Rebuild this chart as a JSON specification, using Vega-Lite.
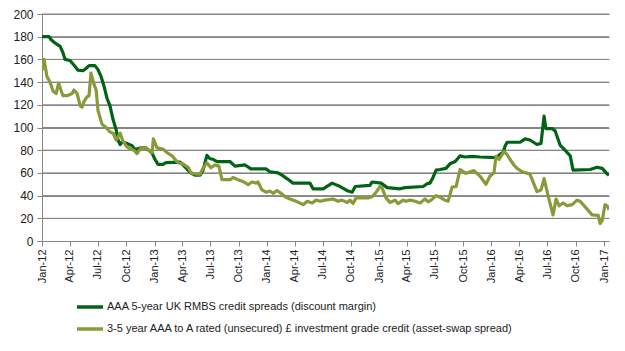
{
  "$schema": "https://vega.github.io/schema/vega-lite/v6.json",
  "width": 567,
  "height": 227,
  "autosize": {"type": "none"},
  "padding": {"left": 42, "top": 14, "right": 16, "bottom": 110},
  "background": "white",
  "config": {
    "view": {"stroke": null},
    "font": "Liberation Sans",
    "axis": {"labelFont": "Liberation Sans", "labelColor": "#222222", "domainColor": "#868686", "tickColor": "#868686", "domainWidth": 1, "tickWidth": 1, "labelOverlap": false},
    "axisX": {"labelAngle": -90, "labelFontSize": 11, "tickSize": 5, "labelPadding": 3, "grid": false, "title": null},
    "axisY": {"labelFontSize": 12, "tickSize": 5, "labelPadding": 4, "grid": true, "gridColor": "#868686", "gridOpacity": 1, "gridWidth": 1, "title": null}
  },
  "datasets": {
    "grid": [{"level": 20}, {"level": 40}, {"level": 60}, {"level": 80}, {"level": 100}, {"level": 120}, {"level": 140}, {"level": 160}, {"level": 180}, {"level": 200}],
    "rmbs": [
      {"date": "2012-01-01", "value": 180}, {"date": "2012-01-24", "value": 180}, {"date": "2012-01-30", "value": 177.5},
      {"date": "2012-02-12", "value": 174.5}, {"date": "2012-02-29", "value": 171.5}, {"date": "2012-03-09", "value": 166},
      {"date": "2012-03-16", "value": 160}, {"date": "2012-04-01", "value": 159}, {"date": "2012-04-17", "value": 154},
      {"date": "2012-04-27", "value": 150.5}, {"date": "2012-05-13", "value": 150}, {"date": "2012-05-23", "value": 152},
      {"date": "2012-06-02", "value": 154.5}, {"date": "2012-06-21", "value": 154.5}, {"date": "2012-07-01", "value": 151},
      {"date": "2012-07-11", "value": 145}, {"date": "2012-07-21", "value": 136}, {"date": "2012-07-30", "value": 126},
      {"date": "2012-08-09", "value": 119}, {"date": "2012-08-19", "value": 107}, {"date": "2012-08-29", "value": 98},
      {"date": "2012-09-04", "value": 89}, {"date": "2012-09-11", "value": 85}, {"date": "2012-09-17", "value": 87},
      {"date": "2012-10-03", "value": 86}, {"date": "2012-10-20", "value": 84}, {"date": "2012-10-29", "value": 80.5},
      {"date": "2012-11-15", "value": 82}, {"date": "2012-12-04", "value": 82}, {"date": "2012-12-24", "value": 77.5},
      {"date": "2013-01-02", "value": 72}, {"date": "2013-01-12", "value": 67.5}, {"date": "2013-01-28", "value": 67.5},
      {"date": "2013-02-07", "value": 69}, {"date": "2013-03-25", "value": 69.5}, {"date": "2013-04-03", "value": 67},
      {"date": "2013-04-16", "value": 63.5}, {"date": "2013-04-26", "value": 60.5}, {"date": "2013-05-12", "value": 58},
      {"date": "2013-05-29", "value": 58}, {"date": "2013-06-07", "value": 62}, {"date": "2013-06-20", "value": 75.5},
      {"date": "2013-06-30", "value": 72.5}, {"date": "2013-07-10", "value": 72}, {"date": "2013-07-23", "value": 70},
      {"date": "2013-09-03", "value": 70}, {"date": "2013-09-19", "value": 66}, {"date": "2013-10-22", "value": 67},
      {"date": "2013-11-10", "value": 63.5}, {"date": "2013-12-29", "value": 63.5}, {"date": "2014-01-11", "value": 61},
      {"date": "2014-02-06", "value": 60}, {"date": "2014-02-19", "value": 58}, {"date": "2014-03-07", "value": 55},
      {"date": "2014-03-27", "value": 51}, {"date": "2014-05-21", "value": 51}, {"date": "2014-05-31", "value": 46},
      {"date": "2014-07-03", "value": 46}, {"date": "2014-08-01", "value": 51}, {"date": "2014-08-27", "value": 48},
      {"date": "2014-09-22", "value": 44}, {"date": "2014-10-05", "value": 43}, {"date": "2014-10-15", "value": 48},
      {"date": "2014-12-02", "value": 49}, {"date": "2014-12-09", "value": 52}, {"date": "2015-01-07", "value": 51},
      {"date": "2015-01-27", "value": 47}, {"date": "2015-03-10", "value": 46}, {"date": "2015-03-26", "value": 47},
      {"date": "2015-05-24", "value": 48}, {"date": "2015-06-06", "value": 50.5}, {"date": "2015-06-15", "value": 51},
      {"date": "2015-06-25", "value": 56}, {"date": "2015-07-05", "value": 62.5}, {"date": "2015-07-18", "value": 63},
      {"date": "2015-08-06", "value": 64}, {"date": "2015-08-19", "value": 68}, {"date": "2015-09-05", "value": 70},
      {"date": "2015-09-21", "value": 75}, {"date": "2015-10-07", "value": 74}, {"date": "2015-10-30", "value": 74.5},
      {"date": "2015-11-25", "value": 74}, {"date": "2016-01-19", "value": 73.5}, {"date": "2016-01-29", "value": 76.5},
      {"date": "2016-02-08", "value": 78}, {"date": "2016-02-14", "value": 83.5}, {"date": "2016-02-21", "value": 87},
      {"date": "2016-04-03", "value": 87}, {"date": "2016-04-19", "value": 90}, {"date": "2016-05-05", "value": 89},
      {"date": "2016-05-28", "value": 85}, {"date": "2016-06-10", "value": 86}, {"date": "2016-06-20", "value": 110},
      {"date": "2016-06-26", "value": 99}, {"date": "2016-07-16", "value": 99}, {"date": "2016-07-26", "value": 97},
      {"date": "2016-08-11", "value": 84.5}, {"date": "2016-09-03", "value": 78}, {"date": "2016-09-13", "value": 75},
      {"date": "2016-09-22", "value": 62.5}, {"date": "2016-11-17", "value": 63}, {"date": "2016-12-09", "value": 65},
      {"date": "2016-12-26", "value": 64}, {"date": "2017-01-08", "value": 60}, {"date": "2017-01-17", "value": 58}
    ],
    "ig": [
      {"date": "2012-01-01", "value": 150}, {"date": "2012-01-08", "value": 160}, {"date": "2012-01-17", "value": 145},
      {"date": "2012-01-27", "value": 140}, {"date": "2012-02-06", "value": 132}, {"date": "2012-02-16", "value": 130},
      {"date": "2012-02-24", "value": 139}, {"date": "2012-03-09", "value": 128}, {"date": "2012-03-22", "value": 128},
      {"date": "2012-04-08", "value": 130}, {"date": "2012-04-14", "value": 133}, {"date": "2012-04-24", "value": 130},
      {"date": "2012-05-04", "value": 119}, {"date": "2012-05-10", "value": 118}, {"date": "2012-05-17", "value": 123},
      {"date": "2012-05-26", "value": 127}, {"date": "2012-06-02", "value": 128}, {"date": "2012-06-08", "value": 148},
      {"date": "2012-06-18", "value": 138}, {"date": "2012-06-25", "value": 133}, {"date": "2012-07-01", "value": 115},
      {"date": "2012-07-14", "value": 103}, {"date": "2012-07-27", "value": 100}, {"date": "2012-08-09", "value": 96},
      {"date": "2012-08-19", "value": 95}, {"date": "2012-08-29", "value": 89}, {"date": "2012-09-11", "value": 95},
      {"date": "2012-09-20", "value": 88}, {"date": "2012-10-03", "value": 83}, {"date": "2012-10-13", "value": 81},
      {"date": "2012-10-26", "value": 80}, {"date": "2012-11-05", "value": 77}, {"date": "2012-11-18", "value": 82},
      {"date": "2012-12-04", "value": 82}, {"date": "2012-12-24", "value": 78}, {"date": "2012-12-28", "value": 90},
      {"date": "2013-01-09", "value": 82}, {"date": "2013-01-28", "value": 81}, {"date": "2013-02-10", "value": 78},
      {"date": "2013-02-27", "value": 75}, {"date": "2013-03-18", "value": 69}, {"date": "2013-04-03", "value": 68},
      {"date": "2013-04-20", "value": 65}, {"date": "2013-04-29", "value": 60}, {"date": "2013-05-16", "value": 59},
      {"date": "2013-05-29", "value": 59}, {"date": "2013-06-07", "value": 64}, {"date": "2013-06-20", "value": 69},
      {"date": "2013-07-03", "value": 64.5}, {"date": "2013-07-16", "value": 67}, {"date": "2013-07-29", "value": 66},
      {"date": "2013-08-08", "value": 54}, {"date": "2013-09-03", "value": 54}, {"date": "2013-09-13", "value": 56},
      {"date": "2013-09-29", "value": 54}, {"date": "2013-10-15", "value": 52.5}, {"date": "2013-11-01", "value": 49.7},
      {"date": "2013-11-14", "value": 52}, {"date": "2013-11-27", "value": 51}, {"date": "2013-12-03", "value": 52},
      {"date": "2013-12-16", "value": 45}, {"date": "2013-12-29", "value": 43}, {"date": "2014-01-11", "value": 44},
      {"date": "2014-01-21", "value": 42}, {"date": "2014-02-03", "value": 44.5}, {"date": "2014-02-16", "value": 42},
      {"date": "2014-03-01", "value": 39}, {"date": "2014-03-17", "value": 37}, {"date": "2014-04-06", "value": 35},
      {"date": "2014-04-29", "value": 32}, {"date": "2014-05-12", "value": 35}, {"date": "2014-05-28", "value": 33.5},
      {"date": "2014-06-10", "value": 36}, {"date": "2014-06-23", "value": 35}, {"date": "2014-07-09", "value": 36},
      {"date": "2014-08-04", "value": 37}, {"date": "2014-08-20", "value": 35}, {"date": "2014-09-02", "value": 36},
      {"date": "2014-09-19", "value": 34}, {"date": "2014-09-28", "value": 36}, {"date": "2014-10-08", "value": 33},
      {"date": "2014-10-18", "value": 38}, {"date": "2014-10-31", "value": 38}, {"date": "2014-11-26", "value": 38},
      {"date": "2014-12-09", "value": 39}, {"date": "2014-12-22", "value": 43}, {"date": "2015-01-04", "value": 48},
      {"date": "2015-01-10", "value": 47}, {"date": "2015-01-23", "value": 38}, {"date": "2015-02-05", "value": 34},
      {"date": "2015-02-22", "value": 36}, {"date": "2015-03-03", "value": 33}, {"date": "2015-03-20", "value": 36},
      {"date": "2015-03-29", "value": 35}, {"date": "2015-04-11", "value": 36}, {"date": "2015-04-28", "value": 35},
      {"date": "2015-05-14", "value": 33.5}, {"date": "2015-05-30", "value": 37}, {"date": "2015-06-09", "value": 34.5},
      {"date": "2015-06-19", "value": 36}, {"date": "2015-07-05", "value": 40}, {"date": "2015-07-18", "value": 38.5},
      {"date": "2015-08-03", "value": 36}, {"date": "2015-08-13", "value": 35}, {"date": "2015-08-26", "value": 47.5},
      {"date": "2015-09-08", "value": 48}, {"date": "2015-09-21", "value": 63}, {"date": "2015-10-10", "value": 59.6},
      {"date": "2015-11-05", "value": 62}, {"date": "2015-11-25", "value": 57}, {"date": "2015-12-14", "value": 50},
      {"date": "2015-12-27", "value": 57}, {"date": "2016-01-09", "value": 60}, {"date": "2016-01-16", "value": 74.6},
      {"date": "2016-01-26", "value": 72}, {"date": "2016-02-11", "value": 79}, {"date": "2016-02-21", "value": 76},
      {"date": "2016-03-01", "value": 72}, {"date": "2016-03-14", "value": 67}, {"date": "2016-03-24", "value": 64},
      {"date": "2016-04-10", "value": 61}, {"date": "2016-04-22", "value": 60}, {"date": "2016-05-05", "value": 59},
      {"date": "2016-05-28", "value": 43.5}, {"date": "2016-06-10", "value": 45}, {"date": "2016-06-20", "value": 55},
      {"date": "2016-07-03", "value": 40}, {"date": "2016-07-19", "value": 23}, {"date": "2016-07-29", "value": 37},
      {"date": "2016-08-08", "value": 31}, {"date": "2016-08-21", "value": 33.5}, {"date": "2016-09-03", "value": 31},
      {"date": "2016-09-19", "value": 32}, {"date": "2016-10-05", "value": 36}, {"date": "2016-10-15", "value": 35},
      {"date": "2016-11-04", "value": 29}, {"date": "2016-11-23", "value": 23}, {"date": "2016-12-13", "value": 22.6},
      {"date": "2016-12-19", "value": 15.5}, {"date": "2016-12-26", "value": 18}, {"date": "2017-01-04", "value": 32},
      {"date": "2017-01-11", "value": 31}, {"date": "2017-01-17", "value": 27.5}
    ]
  },
  "layer": [
    {
      "data": {"name": "grid"},
      "mark": {"type": "rule", "color": "#868686", "strokeWidth": 1},
      "encoding": {
        "y": {"field": "level", "type": "quantitative", "scale": {"domain": [0, 200], "nice": false}, "axis": {"tickCount": 10}}
      }
    },
    {
      "data": {"name": "rmbs"},
      "mark": {"type": "line", "strokeWidth": 3.2, "strokeJoin": "round", "clip": true},
      "encoding": {
        "x": {
          "field": "date", "type": "temporal",
          "scale": {"type": "utc", "domain": [{"year": 2012, "month": 1, "date": 1, "utc": true}, {"year": 2017, "month": 1, "date": 17, "utc": true}]},
          "axis": {"labelExpr": "utcFormat(datum.value, '%b-%y')", "tickCount": {"interval": "month", "step": 3}}
        },
        "y": {"field": "value", "type": "quantitative", "axis": {"tickCount": 10}},
        "color": {
          "datum": "AAA 5-year UK RMBS credit spreads (discount margin)",
          "type": "nominal",
          "scale": {
            "domain": ["AAA 5-year UK RMBS credit spreads (discount margin)", "3-5 year AAA to A rated (unsecured) £ investment grade credit (asset-swap spread)"],
            "range": ["#006414", "#8A9A3B"]
          },
          "legend": {
            "title": null, "orient": "none", "legendX": 33, "legendY": 278, "direction": "vertical",
            "symbolType": "stroke", "symbolSize": 676, "symbolStrokeWidth": 3.5,
            "labelFontSize": 11, "labelFont": "Liberation Sans", "labelColor": "#222222", "labelOffset": 2,
            "rowPadding": -3, "labelLimit": 600
          }
        }
      }
    },
    {
      "data": {"name": "ig"},
      "mark": {"type": "line", "strokeWidth": 3.2, "strokeJoin": "round", "clip": true},
      "encoding": {
        "x": {"field": "date", "type": "temporal", "axis": {"labelExpr": "utcFormat(datum.value, '%b-%y')", "tickCount": {"interval": "month", "step": 3}}},
        "y": {"field": "value", "type": "quantitative", "axis": {"tickCount": 10}},
        "color": {"datum": "3-5 year AAA to A rated (unsecured) £ investment grade credit (asset-swap spread)", "type": "nominal"}
      }
    }
  ]
}
